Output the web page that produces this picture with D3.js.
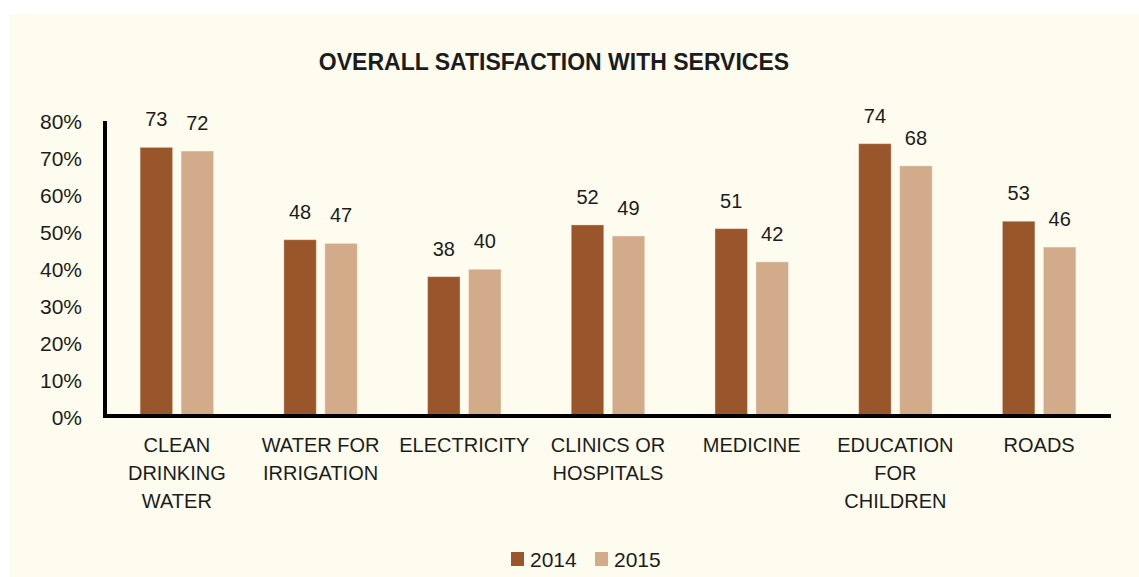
<!DOCTYPE html>
<html>
<head>
<meta charset="utf-8">
<script src="https://cdn.jsdelivr.net/npm/d3@7"></script>
<style>
  html, body { margin: 0; padding: 0; background: #fff; }
  svg { display: block; }
  text { font-family: "Liberation Sans", Arial, sans-serif; fill: #1c1c1c; }
</style>
</head>
<body>
<svg width="1139" height="577"></svg>
<script>

// data
var categories = ["CLEAN DRINKING WATER", "WATER FOR IRRIGATION", "ELECTRICITY", "CLINICS OR HOSPITALS", "MEDICINE", "EDUCATION FOR CHILDREN", "ROADS"];
var categoryLines = [["CLEAN", "DRINKING", "WATER"], ["WATER FOR", "IRRIGATION"], ["ELECTRICITY"], ["CLINICS OR", "HOSPITALS"], ["MEDICINE"], ["EDUCATION", "FOR", "CHILDREN"], ["ROADS"]];
var years = ["2014", "2015"];
var values2014 = [73, 48, 38, 52, 51, 74, 53];
var values2015 = [72, 47, 40, 49, 42, 68, 46];
var yTicks = [0, 10, 20, 30, 40, 50, 60, 70, 80];

var svg = d3.select("svg"),
    width = +svg.attr("width"),
    height = +svg.attr("height");

var color = d3.scaleOrdinal().domain(years).range(["#9a562b", "#d2ab8a"]);

// cream panel
svg.append("rect")
    .attr("x", 9).attr("y", 14)
    .attr("width", width - 9).attr("height", height - 14)
    .attr("fill", "#fefcee");

svg.append("text")
    .attr("x", 554).attr("y", 70)
    .attr("text-anchor", "middle")
    .style("font-size", "23px")
    .style("font-weight", "bold")
    .text("OVERALL SATISFACTION WITH SERVICES");

var x0 = d3.scaleBand().domain(categories).range([105, 1111]);
var x1 = d3.scaleBand().domain(years).range([0, 73.5]).paddingInner(0.207);
var y = d3.scaleLinear().domain([0, 80]).range([417, 121.5]);

var groupOffset = (x0.bandwidth() - 73.5) / 2;

var rows = categories.map(function(c, i) {
  return { cat: c, lines: categoryLines[i], vals: [
    { year: "2014", v: values2014[i] },
    { year: "2015", v: values2015[i] }
  ]};
});

// y tick labels
svg.append("g").selectAll("text")
    .data(yTicks)
  .enter().append("text")
    .attr("x", 82)
    .attr("y", function(d) { return y(d); })
    .attr("dy", "0.36em")
    .attr("text-anchor", "end")
    .style("font-size", "21px")
    .text(function(d) { return d + "%"; });

var group = svg.append("g").selectAll("g")
    .data(rows)
  .enter().append("g")
    .attr("transform", function(d) { return "translate(" + (x0(d.cat) + groupOffset) + ",0)"; });

group.selectAll("rect")
    .data(function(d) { return d.vals; })
  .enter().append("rect")
    .attr("x", function(d) { return x1(d.year); })
    .attr("y", function(d) { return y(d.v); })
    .attr("width", x1.bandwidth())
    .attr("height", function(d) { return y(0) - y(d.v); })
    .attr("fill", function(d) { return color(d.year); })
    .attr("stroke", "rgba(255,255,255,0.35)")
    .attr("stroke-width", 1);

group.selectAll("text.val")
    .data(function(d) { return d.vals; })
  .enter().append("text")
    .attr("class", "val")
    .attr("x", function(d) { return x1(d.year) + x1.bandwidth() / 2; })
    .attr("y", function(d) { return y(d.v) - 21; })
    .attr("text-anchor", "middle")
    .style("font-size", "20px")
    .text(function(d) { return d.v; });

// category labels
svg.append("g").selectAll("text")
    .data(rows)
  .enter().append("text")
    .attr("text-anchor", "middle")
    .style("font-size", "20px")
    .attr("x", function(d) { return x0(d.cat) + x0.bandwidth() / 2; })
    .attr("y", 452)
    .each(function(d) {
      var t = d3.select(this);
      d.lines.forEach(function(l, j) {
        t.append("tspan")
            .attr("x", x0(d.cat) + x0.bandwidth() / 2)
            .attr("y", 452 + j * 28)
            .text(l);
      });
    });

// axes lines
svg.append("line")
    .attr("x1", 105).attr("x2", 105)
    .attr("y1", 121).attr("y2", 418)
    .attr("stroke", "#000").attr("stroke-width", 4);
svg.append("line")
    .attr("x1", 103).attr("x2", 1111)
    .attr("y1", 416).attr("y2", 416)
    .attr("stroke", "#000").attr("stroke-width", 4);

// legend
var legend = svg.append("g").selectAll("g")
    .data(years)
  .enter().append("g")
    .attr("transform", function(d, i) { return "translate(" + (511 + i * 84) + ",552)"; });

legend.append("rect")
    .attr("width", 13).attr("height", 14)
    .attr("fill", function(d) { return color(d); });

legend.append("text")
    .attr("x", 19).attr("y", 15)
    .style("font-size", "21px")
    .text(function(d) { return d; });

</script>
</body>
</html>
